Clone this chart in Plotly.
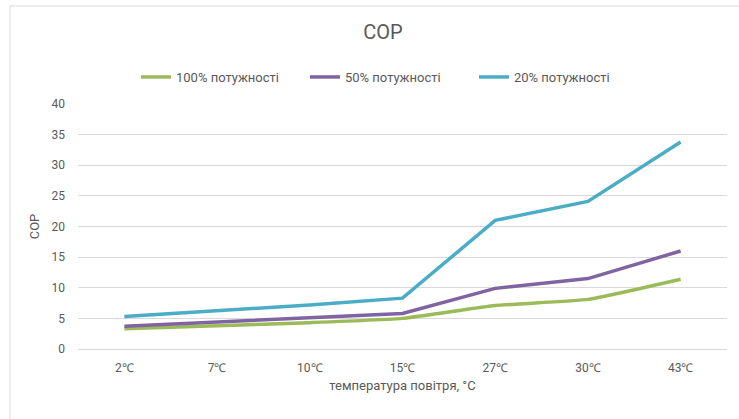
import plotly.graph_objects as go

categories = ["2℃", "7℃", "10℃", "15℃", "27℃", "30℃", "43℃"]
s100 = [3.3, 3.8, 4.3, 5.0, 7.1, 8.1, 11.4]
s50 = [3.7, 4.4, 5.1, 5.8, 9.9, 11.5, 16.0]
s20 = [5.3, 6.2, 7.2, 8.3, 21.0, 24.1, 33.8]
names = ["100% потужності", "50% потужності", "20% потужності"]
colors = ["#9bbb59", "#8064a2", "#4bacc6"]

W, H = 739, 419
L, R, T, B = 78, 12, 104, 70
pw, ph = W - L - R, H - T - B

fig = go.Figure()
for name, vals, col, shape in zip(names, [s100, s50, s20], colors, ["spline", "linear", "linear"]):
    fig.add_trace(go.Scatter(x=categories, y=vals, name=name, mode="lines",
                             line=dict(color=col, width=3.5, shape=shape, smoothing=0.4)))

def px(x):
    return (x - L) / pw

def py(y):
    return 1 - (y - T) / ph

fig.update_layout(
    width=W, height=H,
    margin=dict(l=L, r=R, t=T, b=B, autoexpand=False),
    paper_bgcolor="white", plot_bgcolor="white",
    font=dict(family="Roboto", size=12, color="#595959"),
    title=dict(text="COP", x=px(383), xref="paper", xanchor="center",
               y=1 - 32 / H, yanchor="middle", font=dict(size=20, color="#595959")),
    legend=dict(orientation="h", x=px(141) - 5 / pw, xanchor="left", y=py(77), yanchor="middle",
                font=dict(size=13, color="#595959"), entrywidth=124, entrywidthmode="pixels",
                tracegroupgap=0),
    xaxis=dict(showgrid=False, showline=True, linecolor="#d9d9d9", ticks="", automargin=False,
               ticklabelstandoff=8,
               title=dict(text="температура повітря, °C", font=dict(size=13, color="#595959"), standoff=6),
               range=[-0.5, 6.5]),
    yaxis=dict(range=[0, 40], dtick=5, showgrid=True, gridcolor="#d9d9d9", zeroline=False,
               ticks="", ticklabelstandoff=12, automargin=False,
               title=dict(text="COP", font=dict(size=13, color="#595959"), standoff=8)),
    shapes=[dict(type="path", xref="paper", yref="paper",
                 path=f"M {px(10)} {py(H+5)} L {px(10)} {py(6)} L {px(W+5)} {py(6)}",
                 line=dict(color="#d9d9d9", width=1))],
)

fig.write_html("out.html", config={"displayModeBar": False},
               post_script="document.body.style.margin='0';")
